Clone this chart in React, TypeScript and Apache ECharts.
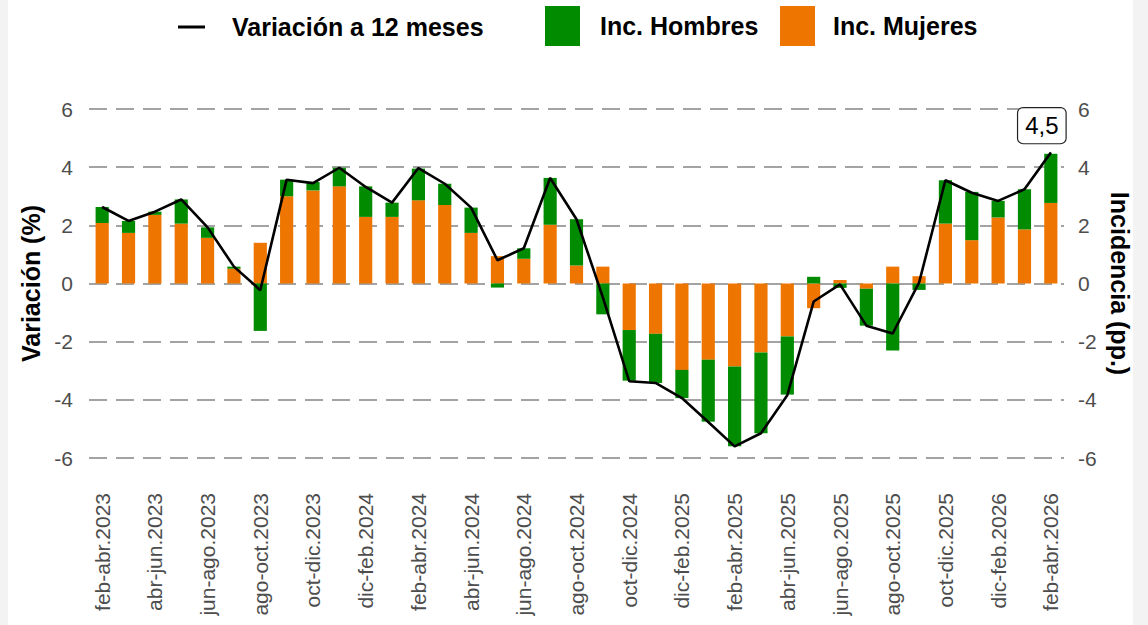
import React, { useEffect, useRef } from "react";
import * as echarts from "echarts";

const categorias = [
  "feb-abr.2023", "mar-may.2023", "abr-jun.2023", "may-jul.2023", "jun-ago.2023", "jul-sep.2023",
  "ago-oct.2023", "sep-nov.2023", "oct-dic.2023", "nov-ene.2024", "dic-feb.2024", "ene-mar.2024",
  "feb-abr.2024", "mar-may.2024", "abr-jun.2024", "may-jul.2024", "jun-ago.2024", "jul-sep.2024",
  "ago-oct.2024", "sep-nov.2024", "oct-dic.2024", "nov-ene.2025", "dic-feb.2025", "ene-mar.2025",
  "feb-abr.2025", "mar-may.2025", "abr-jun.2025", "may-jul.2025", "jun-ago.2025", "jul-sep.2025",
  "ago-oct.2025", "sep-nov.2025", "oct-dic.2025", "nov-ene.2026", "dic-feb.2026", "ene-mar.2026",
  "feb-abr.2026",
];

const incMujeres = [
  2.08, 1.74, 2.36, 2.06, 1.57, 0.51, 1.40, 3.00, 3.20, 3.34, 2.29, 2.29, 2.86, 2.70, 1.74, 0.94,
  0.85, 2.02, 0.62, 0.58, -1.60, -1.73, -2.97, -2.62, -2.85, -2.37, -1.82, -0.85, 0.12, -0.18,
  0.58, 0.25, 2.06, 1.49, 2.27, 1.86, 2.77,
];

const incHombres = [
  0.55, 0.41, 0.11, 0.83, 0.36, 0.07, -1.63, 0.57, 0.29, 0.64, 1.05, 0.49, 1.09, 0.73, 0.87, -0.14,
  0.36, 1.61, 1.59, -1.06, -1.74, -1.69, -0.97, -2.13, -2.75, -2.78, -2.00, 0.23, -0.15, -1.27,
  -2.30, -0.22, 1.49, 1.66, 0.57, 1.38, 1.69,
];

const variacion = [
  2.63, 2.15, 2.47, 2.89, 1.93, 0.58, -0.23, 3.57, 3.45, 3.98, 3.32, 2.78, 3.97, 3.43, 2.61, 0.80,
  1.21, 3.63, 2.21, -0.48, -3.36, -3.42, -3.94, -4.76, -5.60, -5.15, -3.84, -0.62, -0.03, -1.45,
  -1.72, 0.03, 3.55, 3.12, 2.84, 3.24, 4.5,
];

const ejeYTicks = [-6, -4, -2, 0, 2, 4, 6];

const FONT = "'Liberation Sans', Arial, sans-serif";
const VERDE = "#008B00";
const NARANJA = "#EE7600";
const GRIS = "#4d4d4d";

export default function App() {
  const ref = useRef<HTMLDivElement>(null);

  useEffect(() => {
    document.body.style.margin = "0";
    document.body.style.background = "#f3f3f3";
    const chart = echarts.init(ref.current!, null, { renderer: "svg" });
    const last = variacion.length - 1;
    const yMin = ejeYTicks[0];
    const yMax = ejeYTicks[ejeYTicks.length - 1];
    const yStep = ejeYTicks[1] - ejeYTicks[0];

    const legendText = {
      fontFamily: FONT,
      fontSize: 25,
      fontWeight: "bold" as const,
      color: "#000",
      lineHeight: 28,
    };

    const yAxisBase = {
      type: "value" as const,
      min: yMin,
      max: yMax,
      interval: yStep,
      axisLine: { show: false },
      axisTick: { show: false },
      nameLocation: "middle" as const,
      nameTextStyle: { fontFamily: FONT, fontSize: 25, fontWeight: "bold" as const, color: "#000" },
    };

    chart.setOption({
      animation: false,
      backgroundColor: "#ffffff",
      legend: [
        {
          data: ["Variación a 12 meses"],
          left: 165,
          top: 8,
          icon: "rect",
          itemWidth: 27,
          itemHeight: 3,
          textStyle: { ...legendText, padding: [0, 0, 0, 22] },
          selectedMode: false,
        },
        {
          data: ["Inc. Hombres"],
          left: 532,
          top: 1,
          icon: "rect",
          itemWidth: 35,
          itemHeight: 40,
          textStyle: { ...legendText, padding: [0, 0, 0, 15] },
          selectedMode: false,
        },
        {
          data: ["Inc. Mujeres"],
          left: 767,
          top: 1,
          icon: "rect",
          itemWidth: 35,
          itemHeight: 40,
          textStyle: { ...legendText, padding: [0, 0, 0, 13] },
          selectedMode: false,
        },
      ],
      grid: {
        left: 81,
        width: 975,
        top: 109,
        bottom: 167,
        containLabel: false,
        outerBoundsMode: "none",
      },
      xAxis: {
        type: "category",
        data: categorias,
        boundaryGap: true,
        axisLine: { show: false },
        axisTick: { show: false },
        axisLabel: {
          interval: 1,
          rotate: 90,
          margin: 35,
          fontFamily: FONT,
          fontSize: 21,
          color: GRIS,
        },
      },
      yAxis: [
        {
          ...yAxisBase,
          position: "left",
          name: "Variación (%)",
          nameRotate: 90,
          nameGap: 42,
          axisLabel: { fontFamily: FONT, fontSize: 21, color: GRIS, margin: 16 },
          splitLine: {
            show: true,
            lineStyle: { color: "#a3a3a3", width: 2, type: [18, 9] },
          },
        },
        {
          ...yAxisBase,
          position: "right",
          name: "Incidencia (pp.)",
          nameRotate: -90,
          nameGap: 41,
          axisLabel: { fontFamily: FONT, fontSize: 21, color: GRIS, margin: 14 },
          splitLine: { show: false },
        },
      ],
      series: [
        {
          name: "Inc. Mujeres",
          type: "bar",
          stack: "inc",
          yAxisIndex: 1,
          barWidth: "50%",
          itemStyle: { color: NARANJA },
          data: incMujeres,
          z: 2,
        },
        {
          name: "Inc. Hombres",
          type: "bar",
          stack: "inc",
          yAxisIndex: 1,
          barWidth: "50%",
          itemStyle: { color: VERDE },
          data: incHombres,
          z: 2,
        },
        {
          name: "Variación a 12 meses",
          type: "line",
          yAxisIndex: 0,
          symbol: "circle",
          symbolSize: 1,
          showSymbol: true,
          lineStyle: { color: "#000", width: 2.6 },
          itemStyle: { color: "#000" },
          z: 5,
          data: variacion.map((v, i) =>
            i === last
              ? {
                  value: v,
                  label: {
                    show: true,
                    position: "top",
                    distance: 8,
                    offset: [-9, -1],
                    formatter: (p: any) => String(p.value).replace(".", ","),
                    fontFamily: FONT,
                    fontSize: 24,
                    lineHeight: 25,
                    color: "#000",
                    backgroundColor: "#fff",
                    borderColor: "#222",
                    borderWidth: 1.2,
                    borderRadius: 5,
                    padding: [5, 7, 5, 7],
                  },
                }
              : v
          ),
        },
      ],
    });
    return () => chart.dispose();
  }, []);

  return (
    <div
      ref={ref}
      style={{ marginLeft: 8, width: 1125, height: 625, background: "#ffffff" }}
    />
  );
}
